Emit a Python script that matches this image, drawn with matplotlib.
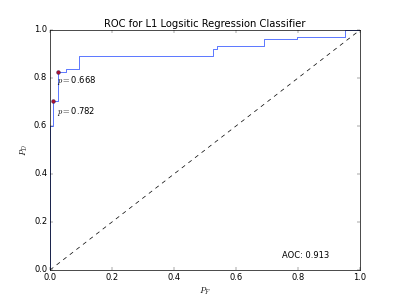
import numpy as np
import matplotlib
matplotlib.use('Agg')
import matplotlib.pyplot as plt

plt.style.use('classic')

# ROC curve (step points)
fpr = [0.0, 0.0, 0.01, 0.01, 0.025, 0.025, 0.052, 0.052, 0.094, 0.094,
       0.527, 0.527, 0.539, 0.539, 0.691, 0.691, 0.796, 0.796, 0.95, 0.95, 1.0]
tpr = [0.0, 0.6, 0.6, 0.705, 0.705, 0.826, 0.826, 0.838, 0.838, 0.893,
       0.893, 0.92, 0.92, 0.933, 0.933, 0.961, 0.961, 0.972, 0.972, 1.0, 1.0]

# marked thresholds
mark_fpr = [0.01, 0.025]
mark_tpr = [0.705, 0.826]
mark_p = ['0.782', '0.668']
label_x = [0.022, 0.024]
label_y = [0.66, 0.788]
auc = 0.913

fig = plt.figure(figsize=(8, 6), dpi=50)
ax = fig.add_subplot(111)
ax.plot(fpr, tpr, color='#4060ff', lw=1.2)
ax.plot([0, 1], [0, 1], 'k--')
ax.plot(mark_fpr, mark_tpr, 'o', mfc='#aa1030', mec='#101050', ms=5.5)
for x, y, p in zip(label_x, label_y, mark_p):
  ax.text(x, y, r'$p=$' + p, va='center', fontsize=12)
ax.text(0.75, 0.06, 'AOC: %.3f' % auc, va='center', fontsize=12)
ax.set_xlim(0, 1)
ax.set_ylim(0, 1)
ax.set_xlabel(r'$P_F$')
ax.set_ylabel(r'$P_D$')
ax.set_title('ROC for L1 Logsitic Regression Classifier')
fig.savefig('out.png', dpi=50)
